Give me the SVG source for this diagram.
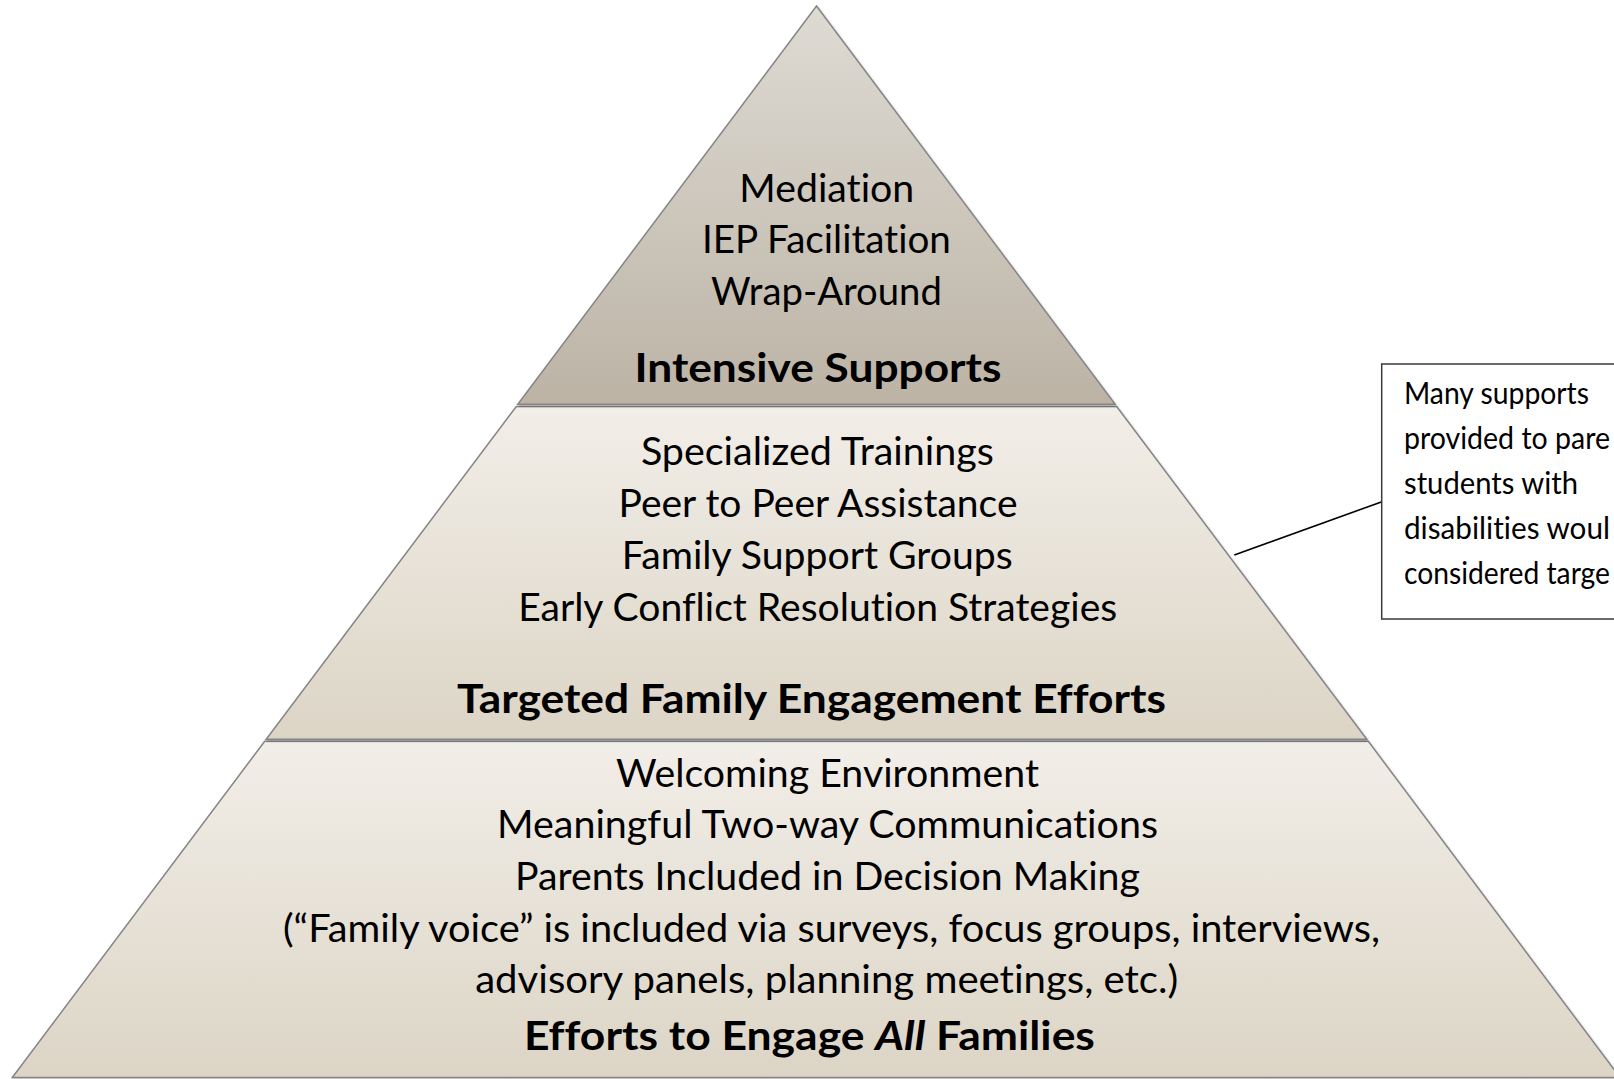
<svg xmlns="http://www.w3.org/2000/svg" width="1614" height="1079" viewBox="0 0 1614 1079">
<style>
.tier{stroke:#858585;stroke-width:1.5;stroke-linejoin:miter}
.t{font-family:Lato,"Open Sans","Liberation Sans",sans-serif;font-size:38px;fill:#000;text-anchor:middle;font-variant-ligatures:none}
.h{font-family:Lato,"Open Sans","Liberation Sans",sans-serif;font-size:41px;font-weight:bold;fill:#000;text-anchor:middle;font-variant-ligatures:none}
.c{font-family:Lato,"Open Sans","Liberation Sans",sans-serif;font-size:30px;fill:#000;font-variant-ligatures:none}
.conn{stroke:#000;stroke-width:1.6;fill:none}
</style>
<defs>
<linearGradient id="gTop" x1="0" y1="0" x2="0" y2="1">
<stop offset="0" stop-color="#dedbd4"/>
<stop offset="1" stop-color="#bcb3a5"/>
</linearGradient>
<linearGradient id="gMid" x1="0" y1="0" x2="0" y2="1">
<stop offset="0" stop-color="#f2eee8"/>
<stop offset="1" stop-color="#dcd5c6"/>
</linearGradient>
<linearGradient id="gBot" x1="0" y1="0" x2="0" y2="1">
<stop offset="0" stop-color="#f2eee8"/>
<stop offset="1" stop-color="#dcd5c6"/>
</linearGradient>
<filter id="sh" x="-5%" y="-5%" width="110%" height="110%">
<feDropShadow dx="1" dy="1.5" stdDeviation="1.2" flood-color="#000" flood-opacity="0.25"/>
</filter>
</defs>
<rect width="1614" height="1079" fill="#fff"/>

<g id="tier-bottom">
<polygon class="tier" filter="url(#sh)" fill="url(#gBot)" points="264.7,741.3 1368.3,741.3 1620,1077.5 12.3,1077.5"/>
<text class="t" x="827.5" y="786.7" textLength="423" lengthAdjust="spacingAndGlyphs">Welcoming Environment</text>
<text class="t" x="827.5" y="838" textLength="661" lengthAdjust="spacingAndGlyphs">Meaningful Two-way Communications</text>
<text class="t" x="827.5" y="890" textLength="625" lengthAdjust="spacingAndGlyphs">Parents Included in Decision Making</text>
<text class="t" x="831.5" y="941.7" textLength="1097" lengthAdjust="spacingAndGlyphs">(“Family voice” is included via surveys, focus groups, interviews,</text>
<text class="t" x="826.7" y="993" textLength="703" lengthAdjust="spacingAndGlyphs">advisory panels, planning meetings, etc.)</text>
<text class="h" x="809.4" y="1050" textLength="571" lengthAdjust="spacingAndGlyphs">Efforts to Engage <tspan font-style="italic">All</tspan> Families</text>
</g>

<g id="tier-middle">
<polygon class="tier" filter="url(#sh)" fill="url(#gMid)" points="516.3,406.5 1116.7,406.5 1366.8,739.3 266.2,739.3"/>
<text class="t" x="817.4" y="465" textLength="353" lengthAdjust="spacingAndGlyphs">Specialized Trainings</text>
<text class="t" x="818" y="517" textLength="399" lengthAdjust="spacingAndGlyphs">Peer to Peer Assistance</text>
<text class="t" x="817.3" y="569" textLength="391" lengthAdjust="spacingAndGlyphs">Family Support Groups</text>
<text class="t" x="817.7" y="620.5" textLength="599" lengthAdjust="spacingAndGlyphs">Early Conflict Resolution Strategies</text>
<text class="h" x="811.5" y="712.5" textLength="709" lengthAdjust="spacingAndGlyphs">Targeted Family Engagement Efforts</text>
</g>

<g id="tier-top">
<polygon class="tier" filter="url(#sh)" fill="url(#gTop)" points="816.5,6 1115.2,404.3 517.8,404.3"/>
<text class="t" x="826.8" y="201.7" textLength="175" lengthAdjust="spacingAndGlyphs">Mediation</text>
<text class="t" x="826.4" y="253" textLength="249" lengthAdjust="spacingAndGlyphs">IEP Facilitation</text>
<text class="t" x="826.4" y="304.5" textLength="231" lengthAdjust="spacingAndGlyphs">Wrap-Around</text>
<text class="h" x="818" y="381.7" textLength="367" lengthAdjust="spacingAndGlyphs">Intensive Supports</text>
</g>

<g id="connectors">
<line class="conn" x1="1234.3" y1="555" x2="1382" y2="501.7"/>
</g>

<g id="callout">
<rect x="1381.7" y="364" width="260" height="255" fill="#fff" stroke="#3a3a3a" stroke-width="1.5"/>
<text class="c" x="1404" y="404" textLength="185" lengthAdjust="spacingAndGlyphs">Many supports</text>
<text class="c" x="1404" y="449" textLength="206" lengthAdjust="spacingAndGlyphs">provided to pare</text>
<text class="c" x="1404" y="494" textLength="174" lengthAdjust="spacingAndGlyphs">students with</text>
<text class="c" x="1404" y="539" textLength="206" lengthAdjust="spacingAndGlyphs">disabilities woul</text>
<text class="c" x="1404" y="584" textLength="206" lengthAdjust="spacingAndGlyphs">considered targe</text>
</g>
</svg>
